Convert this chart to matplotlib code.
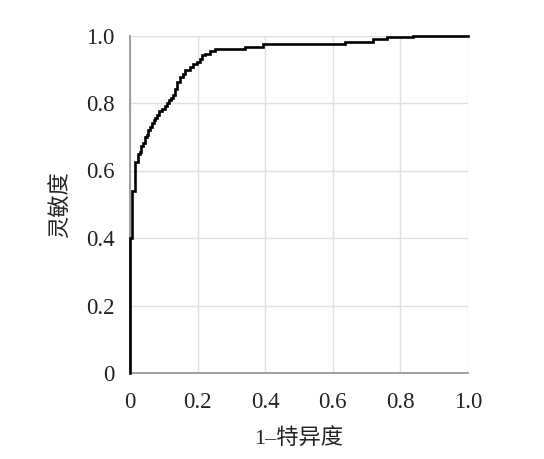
import matplotlib
matplotlib.use("Agg")
import matplotlib.pyplot as plt

# ROC curve step points
fpr = [0.0, 0.0, 0.005, 0.005, 0.015, 0.015, 0.025, 0.025, 0.030, 0.034, 0.039,
       0.045, 0.049, 0.054, 0.060, 0.064, 0.070, 0.074, 0.080, 0.085, 0.094,
       0.103, 0.110, 0.115, 0.120, 0.128, 0.133, 0.138, 0.148, 0.158, 0.163,
       0.177, 0.187, 0.197, 0.207, 0.214, 0.222, 0.237, 0.251, 0.330, 0.340,
       0.394, 0.636, 0.719, 0.759, 0.838, 1.0]
tpr = [0.0, 0.400, 0.404, 0.540, 0.545, 0.625, 0.630, 0.648, 0.655, 0.672, 0.680,
       0.700, 0.706, 0.720, 0.730, 0.741, 0.750, 0.756, 0.765, 0.775, 0.783,
       0.790, 0.800, 0.810, 0.815, 0.825, 0.842, 0.862, 0.877, 0.887, 0.897,
       0.906, 0.916, 0.921, 0.931, 0.941, 0.946, 0.955, 0.959, 0.960, 0.967,
       0.974, 0.980, 0.990, 0.995, 1.000, 1.000]

x_ticks = [0, 0.2, 0.4, 0.6, 0.8, 1.0]
x_ticklabels = ["0", "0.2", "0.4", "0.6", "0.8", "1.0"]
y_ticks = [0, 0.2, 0.4, 0.6, 0.8, 1.0]
y_ticklabels = ["0", "0.2", "0.4", "0.6", "0.8", "1.0"]
x_label = "1\u2013特异度"
y_label = "灵敏度"

fam = ["Liberation Serif", "Noto Sans CJK SC", "DejaVu Sans"]
plt.rcParams['font.family'] = fam

fig = plt.figure(figsize=(5.44, 4.59), dpi=100)
ax = fig.add_axes([130/544, 1 - 373/459, 338/544, 337.5/459])

ax.plot(fpr, tpr, drawstyle="steps-post", color="black", linewidth=1.9,
        solid_joinstyle="miter", clip_on=False, zorder=3)

ax.set_xlim(0, 1)
ax.set_ylim(0, 1)
ax.set_xticks(x_ticks)
ax.set_xticklabels(x_ticklabels)
ax.set_yticks(y_ticks)
ax.set_yticklabels(y_ticklabels)
ax.tick_params(length=0, labelsize=16.5, colors="#222222")
ax.tick_params(axis="x", pad=14)
ax.tick_params(axis="y", pad=11)

ax.grid(True, color="#e0e0e0", linewidth=1.0)
ax.set_axisbelow(True)
for s in ["top", "right"]:
    ax.spines[s].set_visible(False)
for s in ["left", "bottom"]:
    ax.spines[s].set_color("#999999")
    ax.spines[s].set_linewidth(1.3)

ax.set_xlabel(x_label, fontsize=16, color="#222222", labelpad=11)
ax.set_ylabel(y_label, fontsize=16, color="#222222", labelpad=10)

fig.savefig("out.png", dpi=100, facecolor="white")
